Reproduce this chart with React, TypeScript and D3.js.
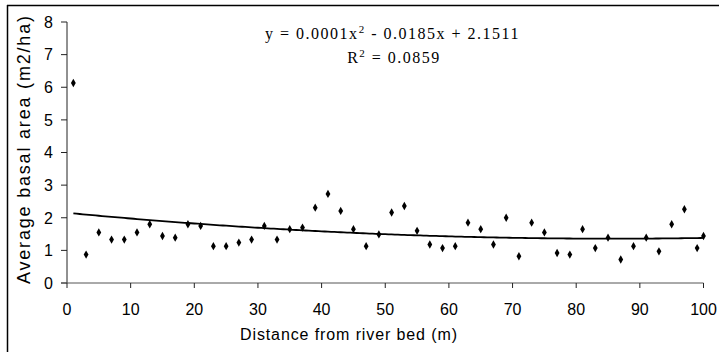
import React from "react";
import * as d3 from "d3";

const distances = [1,3,5,7,9,11,13,15,17,19,21,23,25,27,29,31,33,35,37,39,41,43,45,47,49,51,53,55,57,59,61,63,65,67,69,71,73,75,77,79,81,83,85,87,89,91,93,95,97,99,100];
const basalArea = [6.13,0.87,1.55,1.33,1.33,1.55,1.80,1.44,1.39,1.80,1.75,1.13,1.13,1.24,1.33,1.75,1.33,1.65,1.70,2.31,2.73,2.21,1.65,1.13,1.49,2.16,2.36,1.60,1.18,1.07,1.13,1.85,1.65,1.18,2.00,0.82,1.85,1.55,0.92,0.87,1.65,1.07,1.39,0.72,1.13,1.39,0.97,1.80,2.26,1.07,1.44];
const xTicks = [0,10,20,30,40,50,60,70,80,90,100];
const yTicks = [0,1,2,3,4,5,6,7,8];
// trend line coefficients (as drawn): a x^2 + b x + c
const trendCoef = [0.000108, -0.0185, 2.1511];
const trendRange = [1, 100];

export default function App() {
  const x = d3.scaleLinear().domain([0, 100]).range([67, 703.5]);
  const y = d3.scaleLinear().domain([0, 8]).range([283, 22]);
  const trendXs = d3.range(trendRange[0], trendRange[1] + 0.01, 0.5);
  const line = d3
    .line<number>()
    .x((d) => x(d))
    .y((d) => y(trendCoef[0] * d * d + trendCoef[1] * d + trendCoef[2]));
  const diamond = d3.symbol().type(d3.symbolDiamond).size(20)();
  const sans = "'Liberation Sans', Arial, sans-serif";
  const serif = "'Liberation Serif', 'Times New Roman', serif";

  return (
    <svg
      width={719}
      height={352}
      style={{ position: "absolute", left: 0, top: 0, background: "#fff" }}
    >
      <line x1={7.5} x2={7.5} y1={5} y2={352} stroke="#000" strokeWidth={1.5} />
      <line x1={7} x2={719} y1={5.5} y2={5.5} stroke="#000" strokeWidth={1.5} />
      {/* y axis */}
      <line x1={x(0)} x2={x(0)} y1={y(8)} y2={y(0)} stroke="#222" />
      {yTicks.map((t) => (
        <g key={"y" + t}>
          <line x1={x(0) - 6} x2={x(0)} y1={y(t)} y2={y(t)} stroke="#222" />
          <text
            x={53}
            y={y(t)}
            dy="0.36em"
            textAnchor="end"
            fontFamily={sans}
            fontSize={16}
          >
            {t}
          </text>
        </g>
      ))}
      {/* x axis */}
      <line x1={x(0) - 6} x2={x(100)} y1={y(0)} y2={y(0)} stroke="#555" />
      {xTicks.map((t) => (
        <g key={"x" + t}>
          <line x1={x(t)} x2={x(t)} y1={y(0)} y2={y(0) + 5} stroke="#222" />
          <text
            x={x(t)}
            y={315}
            textAnchor="middle"
            fontFamily={sans}
            fontSize={16}
          >
            {t}
          </text>
        </g>
      ))}
      <text
        x={348.5}
        y={340}
        textAnchor="middle"
        fontFamily={sans}
        fontSize={16}
        textLength={217}
        lengthAdjust="spacing"
      >
        Distance from river bed (m)
      </text>
      <text
        transform={`translate(29.5,150) rotate(-90)`}
        textAnchor="middle"
        fontFamily={sans}
        fontSize={18}
        textLength={268}
        lengthAdjust="spacing"
      >
        Average basal area (m2/ha)
      </text>
      {/* trend line */}
      <path d={line(trendXs) || ""} fill="none" stroke="#000" strokeWidth={1.8} />
      {/* points */}
      {distances.map((d, i) => (
        <path key={"p" + i} d={diamond || ""} transform={`translate(${x(d)},${y(basalArea[i])})`} fill="#000" />
      ))}
      {/* equation */}
      <text x={392.5} y={39} textAnchor="middle" fontFamily={serif} fontSize={16} letterSpacing={1.5}>
        y = 0.0001x<tspan fontSize={11} dy={-6}>2</tspan>
        <tspan dy={6}> - 0.0185x + 2.1511</tspan>
      </text>
      <text x={394} y={63} textAnchor="middle" fontFamily={serif} fontSize={16} letterSpacing={1.5}>
        R<tspan fontSize={11} dy={-6}>2</tspan>
        <tspan dy={6}> = 0.0859</tspan>
      </text>
    </svg>
  );
}
